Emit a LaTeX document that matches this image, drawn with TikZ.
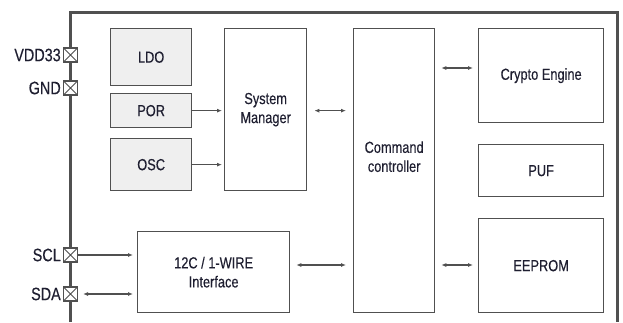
\documentclass[tikz,border=0pt]{standalone}
\usepackage{fontspec}
\setmainfont{Liberation Sans}[FakeStretch=0.8, FakeBold=0.3]
\usetikzlibrary{arrows.meta}

\definecolor{edgegray}{HTML}{505050}
\definecolor{fillgray}{HTML}{EFEFEF}
\definecolor{txtblue}{HTML}{1E1E30}

\tikzset{
  block/.style={draw=edgegray, line width=1.3pt, anchor=north west, inner sep=0pt,
    align=center, text=txtblue, font=\fontsize{16}{19}\selectfont},
  analog/.style={block, fill=fillgray},
  pinbox/.style={draw=edgegray, fill=white, line width=1.1pt, minimum size=14pt, inner sep=0pt,
    path picture={\draw[edgegray, line width=0.9pt]
      (path picture bounding box.north west) -- (path picture bounding box.south east)
      (path picture bounding box.south west) -- (path picture bounding box.north east);}},
  pinlabel/.style={anchor=east, text=txtblue, font=\fontsize{18}{20}\selectfont, inner sep=2pt},
  link/.style={draw=edgegray, line width=1.3pt, -{Latex[length=5pt,width=4pt]}},
  dlink/.style={link, {Latex[length=5pt,width=4pt]}-{Latex[length=5pt,width=4pt]}},
}

\begin{document}
\begin{tikzpicture}[x=1pt, y=-1pt]
\useasboundingbox (0,0) rectangle (623,322);

% chip outline
\draw[edgegray, line width=3pt] (70,322) -- (70,12.5) -- (617,12.5) -- (617,322);

% analog blocks
\node[analog, minimum width=81pt, minimum height=57pt] (ldo) at (110,28) {LDO};
\node[analog, minimum width=81pt, minimum height=34pt] (por) at (110,93) {POR};
\node[analog, minimum width=81pt, minimum height=52pt] (osc) at (110,138) {OSC};

% digital blocks
\node[block, minimum width=82pt, minimum height=162pt] (sysman) at (224,28) {System\\Manager};
\node[block, minimum width=81pt, minimum height=284pt,
  label={[name=cmdtext, align=center, text=txtblue, font=\fontsize{16}{19}\selectfont, yshift=14pt]center:Command\\controller}]
  (cmd) at (353,28) {};
\node[block, minimum width=152pt, minimum height=81pt] (iface) at (137,231) {12C / 1-WIRE\\Interface};
\node[block, minimum width=125pt, minimum height=94pt] (crypto) at (478,28) {Crypto Engine};
\node[block, minimum width=125pt, minimum height=52pt] (puf) at (478,144) {PUF};
\node[block, minimum width=125pt, minimum height=94pt] (eeprom) at (478,218) {EEPROM};

% pins
\node[pinbox] (vdd) at (70.5,55) {};
\node[pinbox] (gnd) at (70.5,88) {};
\node[pinbox] (scl) at (70.5,255) {};
\node[pinbox] (sda) at (70.5,294) {};
\node[pinlabel] (vddtxt) at (vdd.west) {VDD33};
\node[pinlabel] (gndtxt) at (gnd.west) {GND};
\node[pinlabel] (scltxt) at (scl.west) {SCL};
\node[pinlabel] (sdatxt) at (sda.west) {SDA};

% connections
\draw[link] (por.east) -- ([xshift=-2pt]sysman.west |- por.east);
\draw[link] (osc.east) -- ([xshift=-2pt]sysman.west |- osc.east);
\draw[dlink] ([xshift=7pt]sysman.east |- por.east) -- ([xshift=-7pt]cmd.west |- por.east);
\draw[dlink] ([xshift=6pt]cmd.east |- 0,68) -- ([xshift=-5pt]crypto.west |- 0,68);
\draw[dlink] ([xshift=6pt]iface.east |- 0,265) -- ([xshift=-7pt]cmd.west |- 0,265);
\draw[dlink] ([xshift=6pt]cmd.east |- 0,265) -- ([xshift=-5pt]eeprom.west |- 0,265);
\draw[link] (scl.east) -- ([xshift=-4pt]iface.west |- scl.east);
\draw[dlink] ([xshift=5pt]sda.east) -- ([xshift=-4pt]iface.west |- sda.east);

\end{tikzpicture}
\end{document}
